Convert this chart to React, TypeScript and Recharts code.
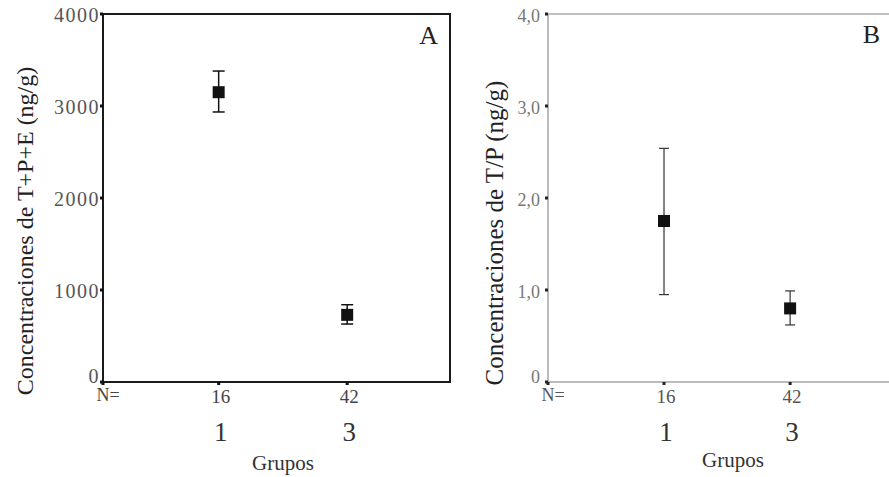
import React from "react";
import { ComposedChart, Scatter, ErrorBar, XAxis, YAxis, ReferenceArea } from "recharts";

// group codes on the x axis and sample sizes printed under them
const GROUPS = [1, 3];
const GROUP_N = [16, 42];

// panel A: T+P+E (ng/g)
const MEAN_A = [3150, 730];
const LOW_A = [2935, 630];
const HIGH_A = [3380, 840];
const TICKS_A = [0, 1000, 2000, 3000, 4000];
const TICK_LABELS_A = ["0", "1000", "2000", "3000", "4000"];

// panel B: T/P ratio
const MEAN_B = [1.75, 0.8];
const LOW_B = [0.95, 0.62];
const HIGH_B = [2.54, 0.99];
const TICKS_B = [0, 1, 2, 3, 4];
const TICK_LABELS_B = ["0", "1,0", "2,0", "3,0", "4,0"];

const SERIF = '"Liberation Serif", "Times New Roman", serif';
const X_DOMAIN_A: [number, number] = [-0.8, 4.6];
const X_DOMAIN_B: [number, number] = [-0.84, 4.6];

function buildRows(mean: number[], low: number[], high: number[]) {
  return GROUPS.map((g, i) => ({
    x: g,
    y: mean[i],
    err: [mean[i] - low[i], high[i] - mean[i]],
  }));
}

const rowsA = buildRows(MEAN_A, LOW_A, HIGH_A);
const rowsB = buildRows(MEAN_B, LOW_B, HIGH_B);

function Square(props: any) {
  const { cx, cy } = props;
  if (cx == null || cy == null) return null;
  return <rect x={cx - 6} y={cy - 6} width={12} height={12} fill="#111" />;
}

function makeXTick(xMin: number, color: string) {
  return (props: any) => {
    const { x, y, payload } = props;
    const v = payload.value;
    if (v === xMin) {
      return (
        <text x={x + 5} y={y + 14} textAnchor="middle" fontFamily={SERIF} fontSize={18} fill={color}>
          N=
        </text>
      );
    }
    const i = GROUPS.indexOf(v);
    if (i < 0) return null;
    return (
      <g>
        <text x={x + 2} y={y + 16} textAnchor="middle" fontFamily={SERIF} fontSize={19} fill={color}>
          {GROUP_N[i]}
        </text>
        <text x={x + 2} y={y + 54} textAnchor="middle" fontFamily={SERIF} fontSize={27} fill="#333">
          {GROUPS[i]}
        </text>
      </g>
    );
  };
}

function makeYTick(ticks: number[], labels: string[], color: string, size: number, spacing: number) {
  return (props: any) => {
    const { x, y, payload } = props;
    const i = ticks.indexOf(payload.value);
    const label = i >= 0 ? labels[i] : "";
    return (
      <text
        x={x}
        y={payload.value === 0 ? y + 1 : y + 8}
        textAnchor="end"
        fontFamily={SERIF}
        fontSize={size}
        letterSpacing={spacing}
        fill={color}
      >
        {label}
      </text>
    );
  };
}

function yLabel(text: string, cx: number, cy: number, size: number) {
  return () => (
    <text
      x={cx}
      y={cy}
      transform={`rotate(-90, ${cx}, ${cy})`}
      textAnchor="middle"
      dominantBaseline="central"
      fontFamily={SERIF}
      fontSize={size}
      fill="#222"
    >
      {text}
    </text>
  );
}

function xLabel(cx: number, baseline: number) {
  return () => (
    <text x={cx} y={baseline} textAnchor="middle" fontFamily={SERIF} fontSize={21} fill="#333">
      Grupos
    </text>
  );
}

export default function App() {
  return (
    <div
      style={{
        position: "absolute",
        left: 0,
        top: 0,
        width: 889,
        height: 477,
        overflow: "hidden",
        background: "#fff",
      }}
    >
      <div style={{ position: "absolute", left: 0, top: 0 }}>
        <ComposedChart width={460} height={477} data={rowsA} margin={{ top: 14, right: 10, bottom: 35, left: 43 }}>
          <XAxis
            type="number"
            dataKey="x"
            domain={X_DOMAIN_A}
            ticks={[X_DOMAIN_A[0], ...GROUPS]}
            interval={0}
            allowDataOverflow
            height={60}
            axisLine={{ stroke: "#1a1a1a", strokeWidth: 2 }}
            tickLine={{ stroke: "#111", strokeWidth: 3 }}
            tickSize={3}
            tickMargin={2}
            tick={makeXTick(X_DOMAIN_A[0], "#444")}
            label={{ content: xLabel(283, 470) }}
          />
          <YAxis
            type="number"
            domain={[0, 4000]}
            ticks={TICKS_A}
            interval={0}
            allowDataOverflow
            width={60}
            axisLine={{ stroke: "#1a1a1a", strokeWidth: 2 }}
            tickLine={{ stroke: "#111", strokeWidth: 3 }}
            tickSize={3}
            tickMargin={0}
            tick={makeYTick(TICKS_A, TICK_LABELS_A, "#555", 20, 1.5)}
            label={{ content: yLabel("Concentraciones de T+P+E (ng/g)", 25, 231, 24) }}
          />
          <ReferenceArea
            x1={X_DOMAIN_A[0]}
            x2={X_DOMAIN_A[1]}
            y1={0}
            y2={4000}
            fill="none"
            stroke="#1a1a1a"
            strokeWidth={2}
            label={{ value: "A", position: "insideTopRight", offset: 12, fontFamily: SERIF, fontSize: 26, fill: "#222" }}
          />
          <Scatter dataKey="y" shape={<Square />} isAnimationActive={false}>
            <ErrorBar dataKey="err" direction="y" width={6} stroke="#111" strokeWidth={1.5} isAnimationActive={false} />
          </Scatter>
        </ComposedChart>
      </div>
      <div style={{ position: "absolute", left: 460, top: 0 }}>
        <ComposedChart width={440} height={477} data={rowsB} margin={{ top: 14, right: 9, bottom: 35, left: 28 }}>
          <XAxis
            type="number"
            dataKey="x"
            domain={X_DOMAIN_B}
            ticks={[X_DOMAIN_B[0], ...GROUPS]}
            interval={0}
            allowDataOverflow
            height={60}
            axisLine={{ stroke: "#bbb", strokeWidth: 2 }}
            tickLine={{ stroke: "#222", strokeWidth: 3 }}
            tickSize={3}
            tickMargin={2}
            tick={makeXTick(X_DOMAIN_B[0], "#555")}
            label={{ content: xLabel(273, 467) }}
          />
          <YAxis
            type="number"
            domain={[0, 4]}
            ticks={TICKS_B}
            interval={0}
            allowDataOverflow
            width={60}
            axisLine={{ stroke: "#bbb", strokeWidth: 1.5 }}
            tickLine={{ stroke: "#222", strokeWidth: 3 }}
            tickSize={3}
            tickMargin={5}
            tick={makeYTick(TICKS_B, TICK_LABELS_B, "#777", 18, 0)}
            label={{ content: yLabel("Concentraciones de T/P (ng/g)", 34, 233, 25) }}
          />
          <ReferenceArea
            x1={X_DOMAIN_B[0]}
            x2={X_DOMAIN_B[1]}
            y1={0}
            y2={4}
            fill="none"
            stroke="#aaa"
            strokeWidth={1.5}
            label={{ value: "B", position: "insideTopRight", offset: 11, fontFamily: SERIF, fontSize: 26, fill: "#222" }}
          />
          <Scatter dataKey="y" shape={<Square />} isAnimationActive={false}>
            <ErrorBar dataKey="err" direction="y" width={5} stroke="#333" strokeWidth={1.2} isAnimationActive={false} />
          </Scatter>
        </ComposedChart>
      </div>
    </div>
  );
}
